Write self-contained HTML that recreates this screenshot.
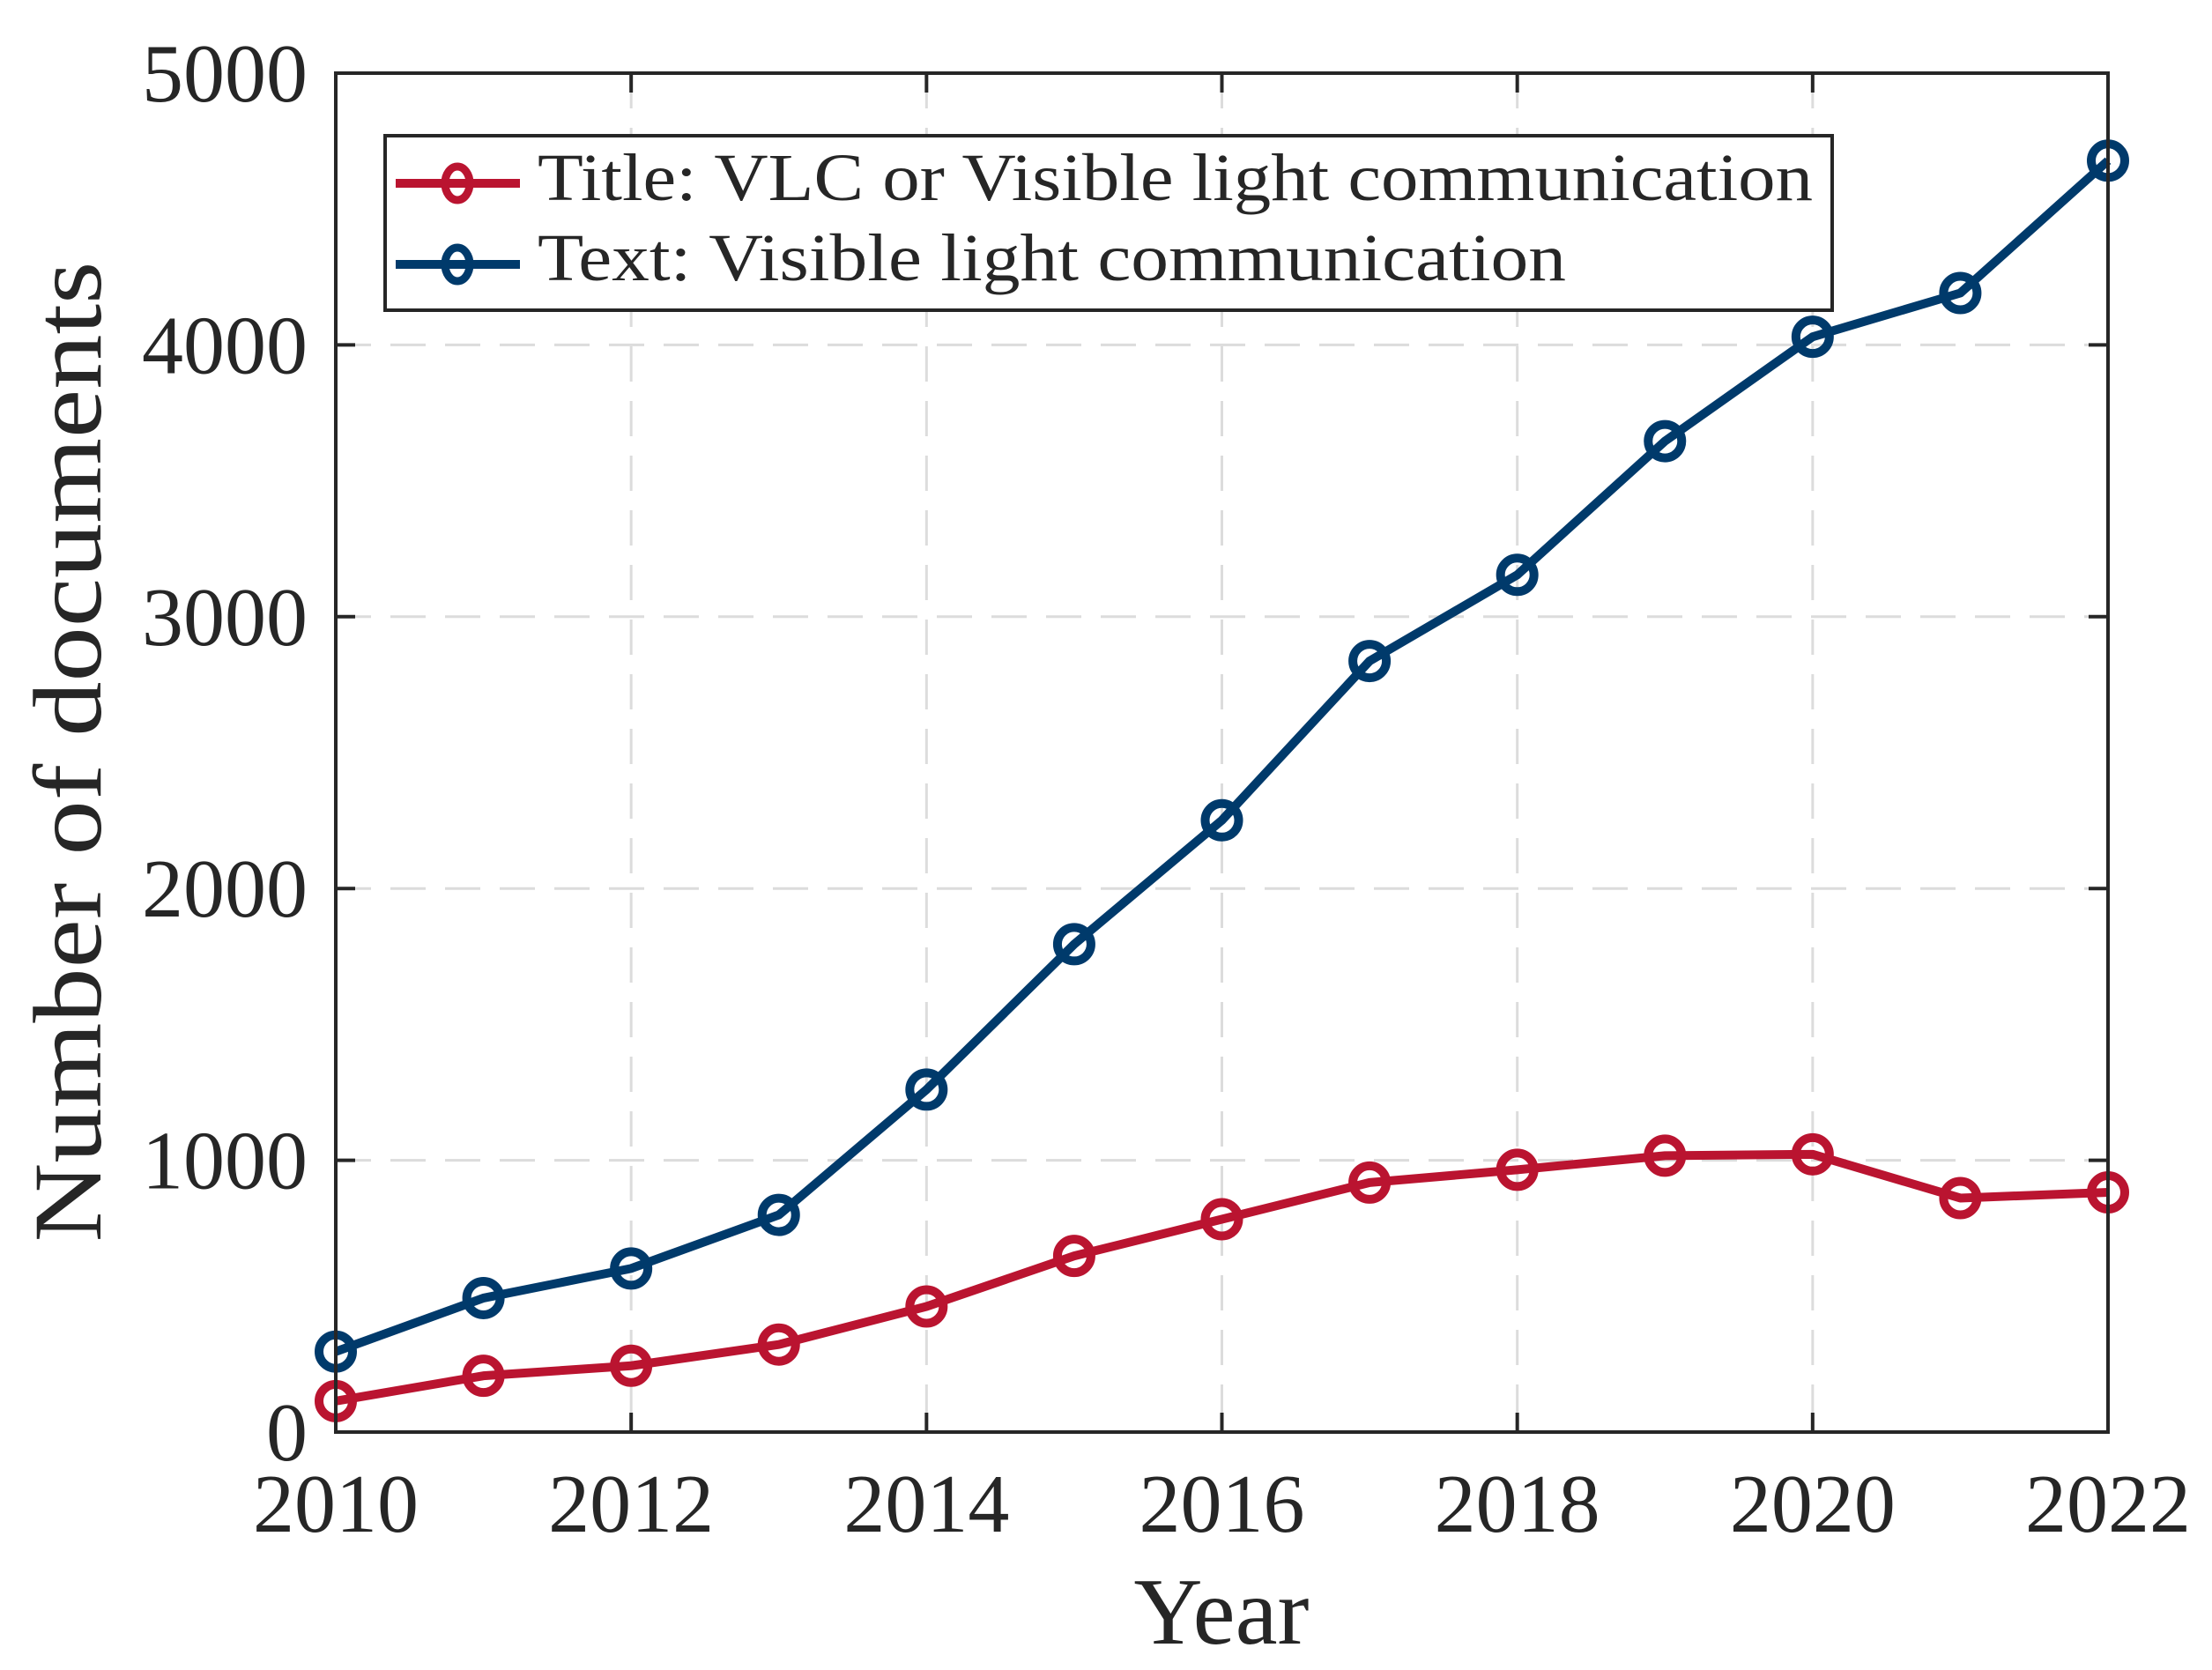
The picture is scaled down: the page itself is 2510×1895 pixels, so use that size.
<!DOCTYPE html>
<html><head><meta charset="utf-8"><style>
html,body{margin:0;padding:0;background:#fff}
svg{display:block}
text{font-family:"Liberation Serif",serif;fill:#262626}
</style></head><body>
<svg id="chart" width="2510" height="1895" viewBox="0 0 2510 1895">
<rect x="0" y="0" width="2510" height="1895" fill="#fff"/>
<g id="grid"></g>
<g id="series"></g>
<rect x="381" y="83" width="2011" height="1542" fill="none" stroke="#262626" stroke-width="4"/>
<g id="ticks"></g>
<text x="77" y="853" font-size="110" text-anchor="middle" textLength="1113" lengthAdjust="spacingAndGlyphs" transform="rotate(-90 77 853)" dominant-baseline="central">Number of documents</text>
<text x="1386" y="1865" font-size="108" text-anchor="middle">Year</text>
<g>
<rect x="437" y="154" width="1642" height="198" fill="#fff" stroke="#262626" stroke-width="4"/>
<g>
<line x1="449" y1="208" x2="590" y2="208" stroke="#BA1430" stroke-width="10"/>
<ellipse cx="519" cy="208" rx="14" ry="19" fill="none" stroke="#BA1430" stroke-width="9"/>
<text x="610" y="227" font-size="76" textLength="1447" lengthAdjust="spacingAndGlyphs">Title: VLC or Visible light communication</text>
</g>
<g>
<line x1="449" y1="300" x2="590" y2="300" stroke="#003A6B" stroke-width="10"/>
<ellipse cx="519" cy="300" rx="14" ry="19" fill="none" stroke="#003A6B" stroke-width="9"/>
<text x="610" y="318" font-size="76" textLength="1167" lengthAdjust="spacingAndGlyphs">Text: Visible light communication</text>
</g>
</g>
</svg>
<script>
const years = [2010,2011,2012,2013,2014,2015,2016,2017,2018,2019,2020,2021,2022];
const textSeries = [296,493,602,799,1260,1795,2251,2837,3154,3646,4030,4191,4678];
const titleSeries = [114,207,244,322,462,648,783,918,965,1017,1022,861,882];
const xTickLabels = ["2010","2012","2014","2016","2018","2020","2022"];
const yTickLabels = ["0","1000","2000","3000","4000","5000"];

const NS = "http://www.w3.org/2000/svg";
const L=381,R=2392,T=83,B=1625;
function xs(v){return L+(v-2010)/(2022-2010)*(R-L);}
function ys(v){return B-v/5000*(B-T);}
function mk(tag,attrs,parent){const e=document.createElementNS(NS,tag);for(const k in attrs)e.setAttribute(k,attrs[k]);parent.appendChild(e);return e;}
const grid=document.getElementById('grid'),ticks=document.getElementById('ticks'),series=document.getElementById('series');

xTickLabels.forEach(lbl=>{
  const v=+lbl, x=xs(v);
  const g=mk('line',{x1:x,y1:T,x2:x,y2:B,stroke:'#dcdcdc','stroke-width':3,'stroke-dasharray':'40 22'},grid);
  
  
  mk('line',{x1:x,y1:B,x2:x,y2:B-22,stroke:'#262626','stroke-width':4},ticks);
  mk('line',{x1:x,y1:T,x2:x,y2:T+22,stroke:'#262626','stroke-width':4},ticks);
  const t=mk('text',{x:x,y:1738,'font-size':94,'text-anchor':'middle'},ticks);
  t.textContent=lbl;
  
  
});
yTickLabels.forEach(lbl=>{
  const v=+lbl, y=ys(v);
  const g=mk('line',{x1:L,y1:y,x2:R,y2:y,stroke:'#dcdcdc','stroke-width':3,'stroke-dasharray':'40 22'},grid);
  
  
  mk('line',{x1:L,y1:y,x2:L+22,y2:y,stroke:'#262626','stroke-width':4},ticks);
  mk('line',{x1:R,y1:y,x2:R-22,y2:y,stroke:'#262626','stroke-width':4},ticks);
  const t=mk('text',{x:349,y:y+32,'font-size':94,'text-anchor':'end'},ticks);
  t.textContent=lbl;
  
  
});

function drawSeries(vals,color,name){
  const g=mk('g',{},series);
  
  
  const pts=vals.map((v,i)=>xs(years[i])+','+ys(v)).join(' ');
  const pl=mk('polyline',{points:pts,fill:'none',stroke:color,'stroke-width':10,'stroke-linejoin':'round'},g);
  
  
  vals.forEach((v,i)=>{
    const c=mk('circle',{cx:xs(years[i]),cy:ys(v),r:19,fill:'none',stroke:color,'stroke-width':10},g);
    
    
  });
}
drawSeries(titleSeries,'#BA1430','title-series');
drawSeries(textSeries,'#003A6B','text-series');
</script>
</body></html>
